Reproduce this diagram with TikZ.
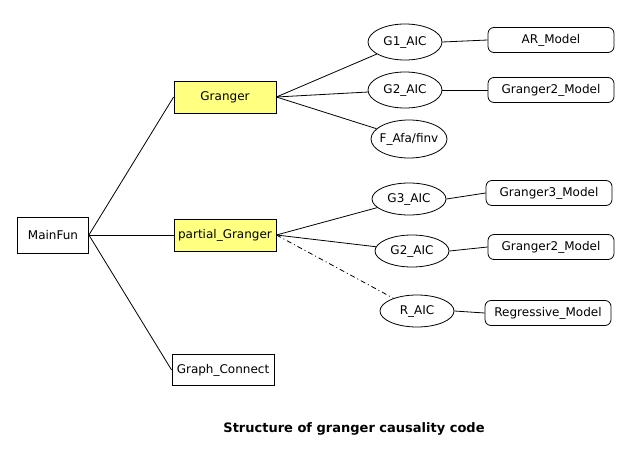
\documentclass[tikz,border=0pt]{standalone}
\usepackage{fontspec}
\setmainfont{DejaVu Sans}
\usetikzlibrary{shapes.geometric}
\definecolor{funYellow}{RGB}{255,255,128}
\newcommand{\nodeFont}{\fontsize{12}{14}\selectfont}
\newcommand{\titleFont}{\fontsize{13}{15}\selectfont\bfseries}
\newcommand{\lineW}{0.8pt}

\begin{document}
\begin{tikzpicture}[x=1pt, y=-1pt,
  funBox/.style={draw, line width=\lineW, inner sep=0pt, minimum width=102pt, minimum height=32pt, font=\nodeFont},
  aicEll/.style={draw, ellipse, line width=\lineW, inner sep=0pt, minimum width=74pt, minimum height=34pt, font=\nodeFont},
  modelBox/.style={draw, rounded corners=6pt, line width=\lineW, inner sep=0pt, minimum width=126pt, minimum height=25pt, font=\nodeFont},
  link/.style={line width=\lineW}]
\useasboundingbox (0,0) rectangle (644,452);

% functions
\node[funBox, minimum width=71pt, minimum height=36pt] (main) at (53,235) {MainFun};
\node[funBox, fill=funYellow] (granger) at (225,97) {Granger};
\node[funBox, fill=funYellow] (partial) at (225,235) {partial\_Granger};
\node[funBox, minimum height=31pt] (graph) at (223,370) {Graph\_Connect};

% AIC
\node[aicEll, minimum height=36pt] (gOne) at (405,42) {G1\_AIC};
\node[aicEll, minimum height=36pt] (gTwoA) at (405,90) {G2\_AIC};
\node[aicEll, inner xsep=-11pt, minimum width=76pt, minimum height=38pt] (fAfa) at (409,139) {F\_Afa/finv};
\node[aicEll, minimum height=32pt] (gThree) at (409,199) {G3\_AIC};
\node[aicEll, minimum height=32pt] (gTwoB) at (412,251) {G2\_AIC};
\node[aicEll, minimum height=32pt] (rAic) at (417,311) {R\_AIC};

% models
\node[modelBox] (arModel) at (551,40) {AR\_Model};
\node[modelBox] (gTwoModelA) at (551,90) {Granger2\_Model};
\node[modelBox] (gThreeModel) at (549,193) {Granger3\_Model};
\node[modelBox] (gTwoModelB) at (551,247) {Granger2\_Model};
\node[modelBox] (regModel) at (548,313) {Regressive\_Model};

\draw[link] (main.east) -- (granger.west);
\draw[link] (main.east) -- (partial.west);
\draw[link] (main.east) -- (graph.west);
\draw[link] (granger.east) -- (gOne);
\draw[link] (granger.east) -- (gTwoA);
\draw[link] (granger.east) -- (fAfa);
\draw[link] (partial.east) -- (gThree);
\draw[link] (partial.east) -- (gTwoB);
\draw[link, dash pattern=on 5pt off 3pt on 1pt off 3pt] (partial.east) -- (rAic);
\draw[link] (gOne.east) -- (arModel.west);
\draw[link] (gTwoA.east) -- (gTwoModelA.west);
\draw[link] (gThree.east) -- (gThreeModel.west);
\draw[link] (gTwoB.east) -- (gTwoModelB.west);
\draw[link] (rAic.east) -- (regModel.west);

\node[font=\titleFont] (title) at (354,429) {Structure of granger causality code};
\end{tikzpicture}
\end{document}
